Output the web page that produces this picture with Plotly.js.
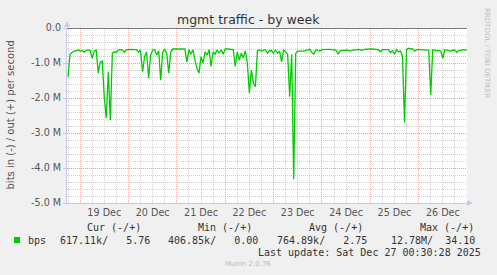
<!DOCTYPE html>
<html>
<head>
<meta charset="utf-8">
<script src="https://cdn.plot.ly/plotly-3.0.1.min.js"></script>
<style>html,body{margin:0;padding:0;background:#F0F0F0;}#chart{width:497px;height:275px;}</style>
</head>
<body>
<div id="chart"></div>
<script>
const chartTitle = 'mgmt traffic - by week';
const yAxisTitle = 'bits in (-) / out (+) per second';
const seriesName = 'bps';
const startTime = '2025-12-18 18:00';   // first hourly sample
const rangeStart = '2025-12-18 17:30';
const rangeEnd = '2025-12-27 00:00';
// inbound traffic, millions of bits per second (plotted negative), hourly samples
const inMbps = [
  -1.39,-0.75,-0.70,-0.66,-0.65,-0.63,-0.66,-0.64,-0.69,-0.63,
  -0.63,-0.64,-0.87,-0.66,-0.63,-1.29,-0.97,-0.95,-1.98,-2.57,
  -1.25,-2.63,-0.72,-0.68,-0.70,-0.63,-0.62,-0.63,-0.69,-0.62,
  -0.62,-0.61,-0.61,-0.62,-0.62,-0.69,-0.63,-1.25,-0.82,-0.68,
  -1.43,-0.78,-0.63,-0.62,-0.77,-0.65,-1.49,-0.68,-0.62,-0.72,
  -1.29,-0.68,-0.60,-0.60,-0.61,-0.60,-0.60,-0.61,-0.60,-0.97,
  -0.62,-0.75,-0.62,-0.92,-1.15,-1.29,-0.82,-1.00,-0.68,-0.78,
  -0.62,-1.10,-0.68,-0.75,-0.62,-0.72,-0.62,-0.75,-0.60,-0.60,
  -0.60,-0.61,-0.62,-1.10,-0.68,-0.92,-0.72,-0.85,-0.65,-1.00,
  -1.86,-1.20,-1.57,-1.68,-0.64,-0.62,-0.66,-0.63,-0.62,-0.72,
  -0.65,-0.65,-0.72,-0.62,-0.72,-0.66,-0.97,-0.62,-0.68,-0.75,
  -1.96,-0.75,-4.32,-0.72,-0.66,-0.66,-0.68,-0.66,-0.64,-0.62,
  -0.61,-0.70,-0.75,-0.62,-0.64,-0.66,-0.62,-0.61,-0.62,-0.61,
  -0.61,-0.62,-0.61,-0.63,-0.75,-0.66,-0.64,-0.63,-0.62,-0.63,
  -0.66,-0.64,-0.62,-0.63,-0.61,-0.62,-0.64,-0.61,-0.60,-0.61,
  -0.60,-0.60,-0.61,-0.62,-0.62,-0.68,-0.62,-0.62,-0.61,-0.62,
  -0.70,-0.65,-0.75,-0.62,-0.68,-0.66,-0.82,-2.70,-0.62,-0.58,
  -0.60,-0.59,-0.66,-0.62,-0.62,-0.62,-0.63,-0.62,-0.62,-0.63,
  -1.91,-0.62,-0.63,-0.65,-0.64,-0.66,-0.87,-0.62,-0.63,-0.65,
  -0.66,-0.63,-0.64,-0.70,-0.64,-0.64,-0.62,-0.63,-0.62
];
const yTickVals = [0, -1e6, -2e6, -3e6, -4e6, -5e6];
const yTickText = ['0.0', '-1.0 M', '-2.0 M', '-3.0 M', '-4.0 M', '-5.0 M'];
const statHeaders = ['Cur (-/+)', 'Min (-/+)', 'Avg (-/+)', 'Max (-/+)'];
const statIn = ['617.11k', '406.85k', '764.89k', '12.78M'];
const statOut = ['5.76', '0.00', '2.75', '34.10'];
const lastUpdate = 'Last update: Sat Dec 27 00:30:28 2025';
const footer = 'Munin 2.0.76';
const sideText = 'RRDTOOL / TOBI OETIKER';

const GREEN = '#00CC00';
const L = 67, R = 467, T = 28, B = 203;
const px = x => (x - L) / (R - L);
const py = y => (B - y) / (B - T);
const mono = 'DejaVu Sans Mono, monospace';

const trace = {
  type: 'scatter', mode: 'lines', name: seriesName,
  x0: startTime, dx: 3600000,
  y: inMbps.map(v => v * 1e6),
  line: {color: GREEN, width: 1.3}, hoverinfo: 'skip', showlegend: false
};

const annotations = [
  {text: chartTitle, xref: 'paper', yref: 'paper', x: px(248.5), y: py(20), xanchor: 'center', yanchor: 'middle', showarrow: false, font: {size: 12.5, color: '#333', family: 'DejaVu Sans'}},
  {text: yAxisTitle, xref: 'paper', yref: 'paper', x: px(10), y: py(115.5), xanchor: 'center', yanchor: 'middle', textangle: -90, showarrow: false, font: {size: 10, color: '#555', family: 'DejaVu Sans'}},
  {text: sideText, xref: 'paper', yref: 'paper', x: px(487), y: py(53), xanchor: 'center', yanchor: 'middle', textangle: 90, showarrow: false, font: {size: 7, color: '#bbb', family: 'DejaVu Sans'}},
  {text: seriesName, xref: 'paper', yref: 'paper', x: px(26), y: py(240), xanchor: 'left', yanchor: 'middle', showarrow: false, font: {size: 10, color: '#333', family: mono}},
  {text: lastUpdate, xref: 'paper', yref: 'paper', x: px(483), y: py(252), xanchor: 'right', yanchor: 'middle', showarrow: false, font: {size: 10, color: '#333', family: mono}},
  {text: footer, xref: 'paper', yref: 'paper', x: px(248), y: py(264), xanchor: 'center', yanchor: 'middle', showarrow: false, font: {size: 7, color: '#bbb', family: 'DejaVu Sans'}}
];
const headEnds = [142.7, 253.5, 365, 476];
const valEnds = [152, 260, 368.5, 477];
statHeaders.forEach((h, i) => {
  annotations.push({text: h.replace(/ /g, '&nbsp;'), xref: 'paper', yref: 'paper', x: px(headEnds[i]), y: py(227), xanchor: 'right', yanchor: 'middle', showarrow: false, font: {size: 10, color: '#333', family: mono}});
  const s = statIn[i] + '/' + statOut[i].padStart(7, ' ');
  annotations.push({text: s.replace(/ /g, '&nbsp;'), xref: 'paper', yref: 'paper', x: px(valEnds[i]), y: py(240), xanchor: 'right', yanchor: 'middle', showarrow: false, font: {size: 10, color: '#333', family: mono}});
});

const AX = '#c8c8f0';
const shapes = [
  {type: 'line', xref: 'paper', yref: 'y', x0: 0, x1: 1, y0: 0, y1: 0, line: {color: '#000', width: 1}},
  {type: 'rect', xref: 'paper', yref: 'paper', x0: px(14), x1: px(20), y0: py(243), y1: py(237), line: {width: 0}, fillcolor: GREEN},
  {type: 'path', xref: 'paper', yref: 'paper', path: `M ${px(64)} ${py(27)} L ${px(70)} ${py(27)} L ${px(67)} ${py(21)} Z`, fillcolor: AX, line: {width: 0}},
  {type: 'path', xref: 'paper', yref: 'paper', path: `M ${px(467)} ${py(200)} L ${px(467)} ${py(206)} L ${px(473)} ${py(203)} Z`, fillcolor: AX, line: {width: 0}}
];

const MAJ = 'rgba(225,140,140,0.7)';
const MIN = 'rgba(200,200,200,0.85)';
const layout = {
  width: 497, height: 275,
  margin: {l: L, r: 497 - R, t: T, b: 275 - B, pad: 0},
  paper_bgcolor: '#F0F0F0', plot_bgcolor: '#FFFFFF',
  font: {family: 'DejaVu Sans', size: 10, color: '#555'},
  showlegend: false,
  xaxis: {
    type: 'date', range: [rangeStart, rangeEnd],
    dtick: 86400000, tick0: '2025-12-19 00:00', tickformat: '%d %b', ticklabelmode: 'period',
    showgrid: true, gridcolor: MAJ, griddash: '1px,1px', gridwidth: 1,
    minor: {dtick: 6 * 3600000, tick0: '2025-12-19 00:00', showgrid: true, gridcolor: MIN, griddash: '1px,1px', gridwidth: 1},
    showline: true, linecolor: AX, linewidth: 1, ticks: '', zeroline: false,
    tickfont: {size: 9.6, color: '#555'}, fixedrange: true
  },
  yaxis: {
    range: [-5e6, 0], tickvals: yTickVals, ticktext: yTickText,
    showgrid: true, gridcolor: MAJ, griddash: '1px,1px', gridwidth: 1,
    minor: {dtick: 2e5, showgrid: true, gridcolor: MIN, griddash: '1px,1px', gridwidth: 1},
    showline: true, linecolor: AX, linewidth: 1, ticks: 'outside', ticklen: 3, tickcolor: AX,
    zeroline: false, tickfont: {size: 9.6, color: '#555'}, fixedrange: true
  },
  annotations: annotations,
  shapes: shapes
};

Plotly.newPlot('chart', [trace], layout, {displayModeBar: false, staticPlot: true});
</script>
</body>
</html>
